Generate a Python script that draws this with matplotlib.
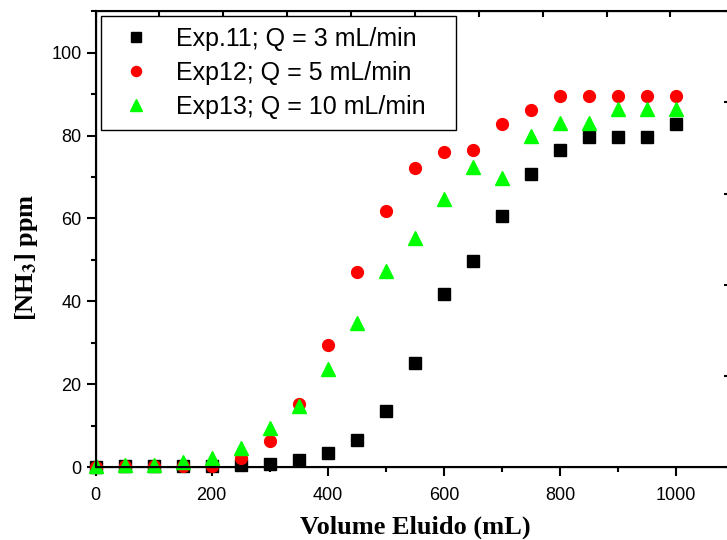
import matplotlib.pyplot as plt
from matplotlib.ticker import MultipleLocator

plt.rcParams["font.family"] = ["Liberation Sans", "DejaVu Sans"]
plt.rcParams["mathtext.fontset"] = "stix"

volume = [0, 50, 100, 150, 200, 250, 300, 350, 400, 450, 500,
          550, 600, 650, 700, 750, 800, 850, 900, 950, 1000]
exp11 = [0.0, 0.3, 0.3, 0.3, 0.3, 0.5, 0.8, 1.7, 3.5, 6.7, 13.6,
         25.2, 41.8, 49.8, 60.6, 70.8, 76.5, 79.6, 79.6, 79.6, 82.7]
exp12 = [0.0, 0.4, 0.4, 0.3, 0.4, 2.2, 6.3, 15.3, 29.6, 47.0, 61.8,
         72.2, 76.0, 76.6, 82.7, 86.1, 89.4, 89.4, 89.4, 89.4, 89.4]
exp13 = [0.3, 0.7, 0.7, 1.4, 2.4, 4.6, 9.5, 14.9, 23.8, 34.8, 47.4,
         55.3, 64.6, 72.5, 69.8, 79.8, 83.1, 83.1, 86.3, 86.3, 86.3]
labels = ["Exp.11; Q = 3 mL/min", "Exp12; Q = 5 mL/min", "Exp13; Q = 10 mL/min"]

fig = plt.figure(figsize=(7.27, 5.4), dpi=100)
# right spine sits just outside the picture, like the cropped original
ax = fig.add_axes([0.1314, 0.1343, 0.8755, 0.8453])

ax.plot(volume, exp11, "s", color="black", ms=8, label=labels[0], clip_on=False)
ax.plot(volume, exp12, "o", color="#ff0000", ms=8.5, label=labels[1], clip_on=False)
ax.plot(volume, exp13, "^", color="#00ff00", ms=10, label=labels[2], clip_on=False)

ax.set_xlim(0, 1096)
ax.set_ylim(0, 110)
ax.xaxis.set_major_locator(MultipleLocator(200))
ax.xaxis.set_minor_locator(MultipleLocator(100))
ax.yaxis.set_major_locator(MultipleLocator(20))
ax.yaxis.set_minor_locator(MultipleLocator(10))
ax.tick_params(which="major", direction="out", length=6.5, width=1.5, labelsize=13,
               right=False, top=False)
ax.tick_params(which="minor", direction="out", length=3.6, width=1.5,
               right=False, top=False)
ax.tick_params(axis="x", which="major", pad=7.5)
ax.tick_params(axis="y", which="major", pad=3.5)
for s in ax.spines.values():
    s.set_linewidth(1.5)

# extra scales of the original layer: only their ticks show
axt = ax.twiny()
axt.set_xlim(ax.get_xlim())
axt.xaxis.set_major_locator(MultipleLocator(110))
axt.tick_params(direction="in", length=4, width=1.5, labeltop=False)
axr = ax.twinx()
axr.set_ylim(ax.get_ylim())
axr.yaxis.set_major_locator(MultipleLocator(22))
axr.tick_params(direction="in", length=6, width=1.5, labelright=False)

ax.set_xlabel("Volume Eluido (mL)", family="Liberation Serif", weight="bold",
              fontsize=19)
ax.set_ylabel(r"[NH$_\mathbf{3}$] ppm", family="Liberation Serif", weight="bold",
              fontsize=19)
ax.xaxis.set_label_coords(0.502, -0.106)
ax.yaxis.set_label_coords(-0.087, 0.46)

leg = ax.legend(loc="upper left", bbox_to_anchor=(0.0086, 0, 0.5575, 0.9895),
                mode="expand", borderaxespad=0, fontsize=18, numpoints=1,
                handlelength=1.9, handletextpad=0.65, borderpad=0.45,
                labelspacing=0.4, fancybox=False, edgecolor="black",
                framealpha=1, markerscale=0.85)
leg.get_frame().set_linewidth(1.0)

fig.savefig("out.png", dpi=100)
